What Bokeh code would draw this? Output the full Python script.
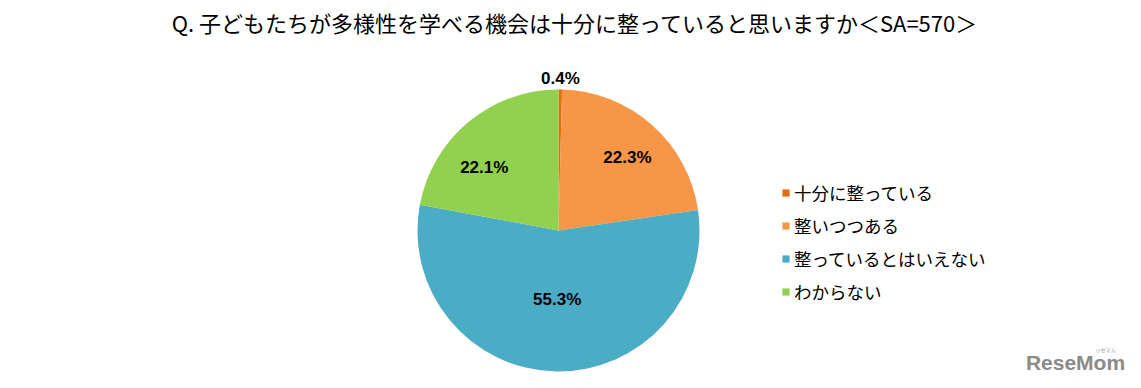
import math
from bokeh.plotting import figure
from bokeh.models import ColumnDataSource, Range1d, Legend, LegendItem, Label
from bokeh.core.properties import value
from bokeh.embed import file_html
from bokeh.resources import INLINE

title_text = "Q. 子どもたちが多様性を学べる機会は十分に整っていると思いますか＜SA=570＞"
categories = ["十分に整っている", "整いつつある", "整っているとはいえない", "わからない"]
percents = [0.4, 22.3, 55.3, 22.1]
colors = ["#E46C0A", "#F79646", "#4BACC6", "#92D050"]
label_radius = [1.08, 0.71, 0.49, 0.69]
label_angle_shift = [0.0, 2.0, 0.0, -10.0]

W, H = 1141, 388
cx, cy, R = 558, H - 230, 141

total = sum(percents)
starts, ends, lx, ly, ltxt = [], [], [], [], []
cum = 0.0
for i, v in enumerate(percents):
    a0 = cum / total * 2 * math.pi
    cum += v
    a1 = cum / total * 2 * math.pi
    # clockwise from 12 o'clock
    starts.append(math.pi / 2 - a1)
    ends.append(math.pi / 2 - a0)
    mid = (a0 + a1) / 2 + math.radians(label_angle_shift[i])
    r = R * label_radius[i]
    lx.append(cx + r * math.sin(mid))
    ly.append(cy + r * math.cos(mid))
    ltxt.append(f"{v:.1f}%")

src = ColumnDataSource(dict(cat=categories, start=starts, end=ends, color=colors,
                            x=[cx] * 4, y=[cy] * 4))
lsrc = ColumnDataSource(dict(x=lx, y=ly, t=ltxt))

p = figure(width=W, height=H, x_range=Range1d(0, W), y_range=Range1d(0, H),
           output_backend="svg", toolbar_location=None, min_border=0)
p.axis.visible = False
p.grid.visible = False
p.outline_line_color = None

wr = p.wedge(x="x", y="y", radius=R, start_angle="start", end_angle="end",
             direction="anticlock", fill_color="color", line_color=None, source=src)

p.text(x="x", y="y", text="t", source=lsrc, text_align="center", text_baseline="middle",
       text_font=value("Liberation Sans"), text_font_style="bold",
       text_font_size="17px", text_color="#000000")

p.add_layout(Label(x=W / 2 + 4, y=H - 21, text=title_text, text_align="center",
                   text_baseline="middle", text_font="Noto Sans CJK JP",
                   text_font_size="22px", text_color="#000000"))

items = [LegendItem(label=c, renderers=[wr], index=i) for i, c in enumerate(categories)]
legend = Legend(items=items, location=(781, 84), orientation="vertical",
                glyph_width=9, glyph_height=9, label_standoff=4, spacing=8,
                label_height=20, padding=0, margin=0,
                label_text_font="Noto Sans CJK JP", label_text_font_size="17.5px",
                label_text_color="#000000", border_line_color=None,
                background_fill_alpha=0)
p.add_layout(legend, "center")

p.add_layout(Label(x=1075, y=H - 362, text="ReseMom", text_align="center",
                   text_baseline="middle", text_font="Liberation Sans",
                   text_font_style="bold", text_font_size="21px", text_color="#8a8a8a"))
p.add_layout(Label(x=1105, y=H - 349, text="リセマム", text_align="center",
                   text_baseline="middle", text_font="Noto Sans CJK JP",
                   text_font_size="5px", text_color="#8a8a8a"))

open("out.html", "w").write(file_html(p, INLINE))
